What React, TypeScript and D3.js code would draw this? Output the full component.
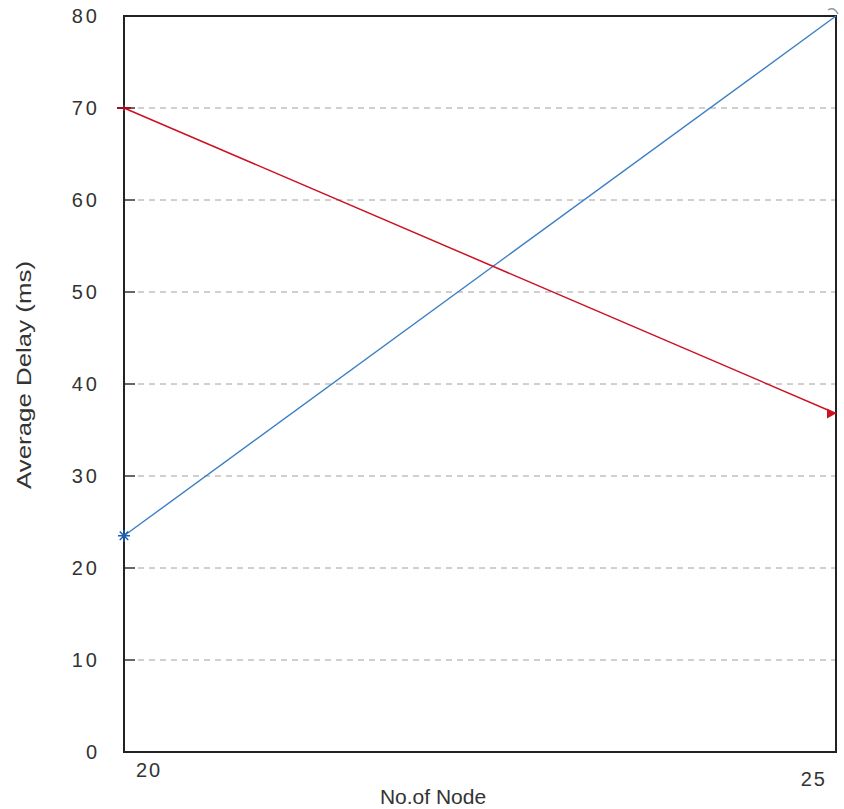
import React from "react";
import * as d3 from "d3";

const nodes = [20, 25];
const seriesBlue = [23.5, 80];
const seriesRed = [70, 36.8];
const yTicks = [0, 10, 20, 30, 40, 50, 60, 70, 80];
const xTicks = [20, 25];

const W = 844;
const H = 809;
const L = 124, R = 836, T = 16, B = 752;

export default function App() {
  const x = d3.scaleLinear().domain([20, 25]).range([L, R]);
  const y = d3.scaleLinear().domain([0, 80]).range([B, T]);
  const line = d3
    .line<[number, number]>()
    .x((d) => x(d[0]))
    .y((d) => y(d[1]));
  const blue = nodes.map((n, i) => [n, seriesBlue[i]] as [number, number]);
  const red = nodes.map((n, i) => [n, seriesRed[i]] as [number, number]);
  const font = "'Liberation Sans', Arial, sans-serif";
  const blueC = "#3d7fc4";
  const redC = "#cc1122";
  const star = (cx: number, cy: number, r: number) =>
    [0, 45, 90, 135].map((a) => {
      const rad = (a * Math.PI) / 180;
      return `M${cx - r * Math.cos(rad)},${cy - r * Math.sin(rad)}L${cx + r * Math.cos(rad)},${cy + r * Math.sin(rad)}`;
    }).join("");
  return (
    <svg
      width={W}
      height={H}
      style={{ position: "absolute", left: 0, top: 0, background: "#fff" }}
      fontFamily={font}
    >
      {/* gridlines */}
      {yTicks.filter((t) => t > 0 && t < 80).map((t) => (
        <g key={t}>
          <line x1={x(20)} x2={x(20) + 11} y1={y(t)} y2={y(t)} stroke="#333" strokeWidth={1.5} />
          <line
            x1={x(20) + 14}
            x2={R}
            y1={y(t)}
            y2={y(t)}
            stroke="#a0a0a0"
            strokeWidth={1}
            strokeDasharray="6,5"
          />
        </g>
      ))}
      {/* frame */}
      <rect x={L} y={T} width={R - L} height={B - T} fill="none" stroke="#222" strokeWidth={2} />
      {/* y tick labels */}
      {yTicks.map((t) => (
        <text
          key={t}
          x={100}
          y={y(t)}
          dy="0.36em"
          textAnchor="end"
          fontSize={20}
          letterSpacing={3}
          fill="#333"
        >
          {t}
        </text>
      ))}
      {/* x tick labels */}
      <text x={x(xTicks[0]) + 12} y={777} fontSize={20} letterSpacing={2} fill="#333">
        {xTicks[0]}
      </text>
      <text x={x(xTicks[1]) - 9} y={786} fontSize={20} letterSpacing={2} textAnchor="end" fill="#333">
        {xTicks[1]}
      </text>
      {/* axis labels */}
      <text x={433} y={804} textAnchor="middle" fontSize={21} fill="#333">
        No.of Node
      </text>
      <text
        transform={`translate(31,375) rotate(-90)`}
        textAnchor="middle"
        fontSize={21}
        textLength={228}
        lengthAdjust="spacingAndGlyphs"
        fill="#333"
      >
        Average Delay (ms)
      </text>
      {/* lines */}
      <path d={line(blue) || ""} fill="none" stroke={blueC} strokeWidth={1.4} />
      <path d={line(red) || ""} fill="none" stroke={redC} strokeWidth={1.5} />
      {/* markers */}
      <path d={star(x(20), y(seriesBlue[0]), 6)} stroke="#1f5fae" strokeWidth={1.5} />
      <path
        d={`M${x(25) - 8},${y(seriesBlue[1]) - 6}Q${x(25) - 2},${y(seriesBlue[1]) - 10} ${x(25) + 2},${y(seriesBlue[1]) - 2}`}
        fill="none"
        stroke="#8899aa"
        strokeWidth={1.5}
      />
      <path
        d={`M${x(20) - 7},${y(seriesRed[0])}H${x(20) + 7}M${x(20)},${y(seriesRed[0]) - 3}V${y(seriesRed[0]) + 3}`}
        stroke="#991122"
        strokeWidth={2}
      />
      <path
        d={`M${x(25) - 9},${y(seriesRed[1]) - 5}L${x(25)},${y(seriesRed[1])}L${x(25) - 9},${y(seriesRed[1]) + 5}Z`}
        fill={redC}
      />
    </svg>
  );
}
